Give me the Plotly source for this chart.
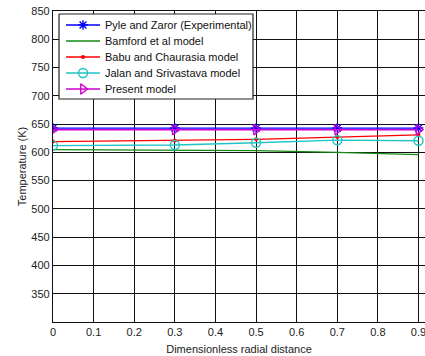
import plotly.graph_objects as go

# Radial positions and temperature profiles (K)
radial = [0, 0.3, 0.5, 0.7, 0.9]
pyle_zaror = [643, 643, 643, 643, 643]
bamford = [605, 604, 603, 600, 596]
babu_chaurasia = [619, 621, 623, 627, 631]
jalan_srivastava = [612, 613, 617, 621.5, 620.5]
present_model = [640, 640, 640, 640, 640]

series_names = [
    "Pyle and Zaror (Experimental)",
    "Bamford et al model",
    "Babu and Chaurasia model",
    "Jalan and Srivastava model",
    "Present model",
]

x_ticks = [0, 0.1, 0.2, 0.3, 0.4, 0.5, 0.6, 0.7, 0.8, 0.9]
x_tick_text = ["0", "0.1", "0.2", "0.3", "0.4", "0.5", "0.6", "0.7", "0.8", "0.9"]
y_ticks = [350, 400, 450, 500, 550, 600, 650, 700, 750, 800, 850]

FONT = "Liberation Sans, Arial, sans-serif"
W, H = 425, 356
M_L, M_R, M_T, M_B = 53, 0, 11, 34

# Line / marker styles per series
styles = [
    dict(color="#0000ff", symbol="asterisk-open", size=8, filled=False),
    dict(color="#138a13", symbol=None, size=0, filled=False),
    dict(color="#ff0000", symbol="circle", size=4, filled=True),
    dict(color="#20c4c4", symbol="circle-open", size=9, filled=False),
    dict(color="#d000d0", symbol="triangle-right-open", size=9, filled=False),
]
values = [pyle_zaror, bamford, babu_chaurasia, jalan_srivastava, present_model]


def marker_for(st):
    if st["symbol"] is None:
        return None
    if st["filled"]:
        return dict(symbol=st["symbol"], size=st["size"], color=st["color"])
    return dict(symbol=st["symbol"], size=st["size"], color=st["color"],
                line=dict(color=st["color"], width=1.4))


fig = go.Figure()
for name, ys, st in zip(series_names, values, styles):
    mk = marker_for(st)
    fig.add_trace(go.Scatter(
        x=radial, y=ys, name=name, showlegend=False,
        mode="lines+markers" if mk else "lines",
        line=dict(color=st["color"], width=1.3),
        marker=mk,
    ))

# Legend drawn on an overlay axis spanning the plot area (0..1 in both directions)
pw = W - M_L - M_R
ph = H - M_T - M_B


def fx(px):
    return (px - M_L) / pw


def fy(py):
    return (H - M_B - py) / ph


box_x = [fx(59), fx(253), fx(253), fx(59), fx(59)]
box_y = [fy(14), fy(14), fy(99), fy(99), fy(14)]
fig.add_trace(go.Scatter(
    x=box_x, y=box_y, xaxis="x2", yaxis="y2", mode="lines",
    fill="toself", fillcolor="white", line=dict(color="#222222", width=1.2),
    showlegend=False, hoverinfo="skip",
))

for i, (name, st) in enumerate(zip(series_names, styles)):
    row_y = fy(25 + 16 * i)
    fig.add_trace(go.Scatter(
        x=[fx(66), fx(100)], y=[row_y, row_y], xaxis="x2", yaxis="y2",
        mode="lines", line=dict(color=st["color"], width=1.3),
        showlegend=False, hoverinfo="skip",
    ))
    mk = marker_for(st)
    if mk:
        fig.add_trace(go.Scatter(
            x=[fx(83)], y=[row_y], xaxis="x2", yaxis="y2",
            mode="markers", marker=mk, showlegend=False, hoverinfo="skip",
        ))
    fig.add_annotation(
        x=fx(103), y=row_y, xref="paper", yref="paper",
        text=name, showarrow=False, xanchor="left", yanchor="middle",
        font=dict(family=FONT, size=11, color="#111111"),
    )

fig.update_layout(
    width=W, height=H,
    margin=dict(l=M_L, r=M_R, t=M_T, b=M_B),
    paper_bgcolor="white", plot_bgcolor="white",
    font=dict(family=FONT, size=11, color="#222222"),
    showlegend=False,
    xaxis=dict(
        range=[0, 0.916], tickvals=x_ticks, ticktext=x_tick_text,
        showgrid=True, gridcolor="#111111", gridwidth=1.3,
        showline=True, linecolor="#111111", linewidth=1.3, mirror=True,
        zeroline=False, ticks="", tickfont=dict(size=11),
        ticklabeloverflow="allow",
        title=dict(text="Dimensionless radial distance", font=dict(size=11), standoff=7),
    ),
    yaxis=dict(
        range=[300, 850], tickvals=y_ticks,
        showgrid=True, gridcolor="#111111", gridwidth=1.3,
        showline=True, linecolor="#111111", linewidth=1.3, mirror=False,
        zeroline=False, ticks="", tickfont=dict(size=11),
        title=dict(text="Temperature (K)", font=dict(size=11), standoff=2),
    ),
    xaxis2=dict(overlaying="x", range=[0, 1], visible=False, fixedrange=True),
    yaxis2=dict(overlaying="y", range=[0, 1], visible=False, fixedrange=True),
)

fig.write_html("out.html")
